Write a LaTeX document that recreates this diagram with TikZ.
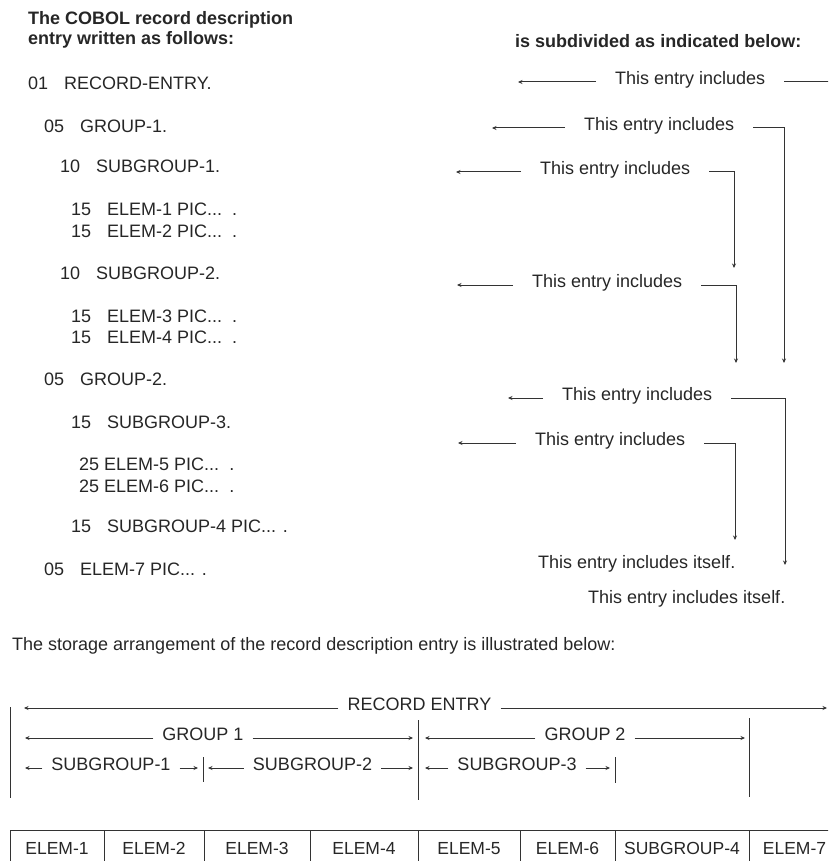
\documentclass[tikz,border=0pt]{standalone}
\usepackage{fontspec}
\setmainfont{Liberation Sans}
\usetikzlibrary{arrows.meta}

\newcommand{\lvl}[1]{\makebox[36pt][l]{#1}}

\tikzset{
  txt/.style={anchor=base west, inner sep=0pt, text=black!85, font=\fontsize{18}{20}\selectfont},
  hd/.style={txt, font=\fontsize{18}{20}\selectfont\bfseries},
  incl/.style={anchor=mid west, inner xsep=19pt, inner ysep=0pt, text=black!85, font=\fontsize{18}{20}\selectfont},
  span/.style={anchor=mid, inner xsep=9pt, inner ysep=0pt, text=black!85, font=\fontsize{18}{20}\selectfont},
  line/.style={line width=1pt, black!80},
  tip/.style={line, -{Stealth[length=4.5pt,width=4pt]}},
  cell/.style={draw=black!80, line width=1pt, minimum height=36pt, inner sep=0pt, text height=13pt, text depth=0pt, text=black!85, font=\fontsize{17.5}{20}\selectfont},
}

\begin{document}
\begin{tikzpicture}[x=1pt,y=-1pt]
\useasboundingbox (0,0) rectangle (828,861);
\clip (0,0) rectangle (828,861);

\node[hd] (head1) at (28,24.5) {The COBOL record description};
\node[hd] (head2) at (28,44.5) {entry written as follows:};
\node[hd] (head3) at (515,47.5) {is subdivided as indicated below:};

% the record description entry
\node[txt] (rec) at (28,90) {\lvl{01}RECORD-ENTRY.};
\node[txt] (grp1) at (44,133) {\lvl{05}GROUP-1.};
\node[txt] (sub1) at (60,173) {\lvl{10}SUBGROUP-1.};
\node[txt] (elem1) at (71,215) {\lvl{15}ELEM-1 PIC...\ \ .};
\node[txt] (elem2) at (71,237) {\lvl{15}ELEM-2 PIC...\ \ .};
\node[txt] (sub2) at (60,279) {\lvl{10}SUBGROUP-2.};
\node[txt] (elem3) at (71,322) {\lvl{15}ELEM-3 PIC...\ \ .};
\node[txt] (elem4) at (71,343) {\lvl{15}ELEM-4 PIC...\ \ .};
\node[txt] (grp2) at (44,385) {\lvl{05}GROUP-2.};
\node[txt] (sub3) at (71,428) {\lvl{15}SUBGROUP-3.};
\node[txt] (elem5) at (79,470) {25 ELEM-5 PIC...\ \ .};
\node[txt] (elem6) at (79,492) {25 ELEM-6 PIC...\ \ .};
\node[txt] (sub4) at (71,532) {\lvl{15}SUBGROUP-4 PIC... .};
\node[txt] (elem7) at (44,575) {\lvl{05}ELEM-7 PIC... .};

\node[incl] (inc1) at (596,82) {This entry includes};
\node[incl] (inc2) at (565,128) {This entry includes};
\node[incl] (inc3) at (521,172) {This entry includes};
\node[incl] (inc4) at (513,285) {This entry includes};
\node[incl] (inc5) at (543,398) {This entry includes};
\node[incl] (inc6) at (516,443) {This entry includes};
\node[txt] (self1) at (538,568) {This entry includes itself.};
\node[txt] (self2) at (588,603) {This entry includes itself.};

	\coordinate (l1) at (518,82);
	\coordinate (r1) at (830,82);
	\coordinate (l2) at (492,128);
	\coordinate (r2) at (784,363);
	\coordinate (l3) at (456,172);
	\coordinate (r3) at (734,268);
	\coordinate (l4) at (457,285);
	\coordinate (r4) at (736,363);
	\coordinate (l5) at (508,398);
	\coordinate (r5) at (785,565);
	\coordinate (l6) at (458,443);
	\coordinate (r6) at (735,540);

\foreach \i in {1,...,6}
 \draw[tip] (inc\i.mid west) -- (l\i);
\draw[line] (inc1.mid east) -- (r1);
\foreach \i in {2,...,6}
 \draw[tip] (inc\i.mid east) -| (r\i);

% storage arrangement
\node[txt] (store) at (12,650) {The storage arrangement of the record description entry is illustrated below:};

\node[span] (recent) at (419.5,708) {RECORD ENTRY};
\node[span] (gp1) at (203,738) {GROUP 1};
\node[span] (gp2) at (585,738) {GROUP 2};
\node[span] (sg1) at (111,768) {SUBGROUP-1};
\node[span] (sg2) at (312.5,768) {SUBGROUP-2};
\node[span] (sg3) at (517,768) {SUBGROUP-3};

	\coordinate (rl) at (24,708);
	\coordinate (rr) at (827,708);
	\coordinate (g1l) at (25,738);
	\coordinate (g1r) at (413,738);
	\coordinate (g2l) at (425,738);
	\coordinate (g2r) at (745,738);
	\coordinate (s1l) at (25,768);
	\coordinate (s1r) at (198,768);
	\coordinate (s2l) at (208,768);
	\coordinate (s2r) at (413,768);
	\coordinate (s3l) at (425,768);
	\coordinate (s3r) at (610,768);

\foreach \n/\a/\b in {recent/rl/rr,gp1/g1l/g1r,gp2/g2l/g2r,sg1/s1l/s1r,sg2/s2l/s2r,sg3/s3l/s3r}{
 \draw[tip] (\n.mid west) -- (\a);
 \draw[tip] (\n.mid east) -- (\b);
}

\draw[line] (10,707) -- (10,798);
\draw[line] (418,720) -- (418,800);
\draw[line] (749,718) -- (749,797);
\draw[line] (203,757) -- (203,782);
\draw[line] (615,757) -- (615,783);

\foreach \a/\b/\t [count=\i] in {10/104/ELEM-1,104/204/ELEM-2,204/310/ELEM-3,310/418/ELEM-4,418/520/ELEM-5,520/615/ELEM-6,615/749/SUBGROUP-4,749/840/ELEM-7}
 \node[cell, minimum width={(\b-\a)*1pt}] (box\i) at ({(\a+\b)/2},848) {\t};

\end{tikzpicture}
\end{document}
